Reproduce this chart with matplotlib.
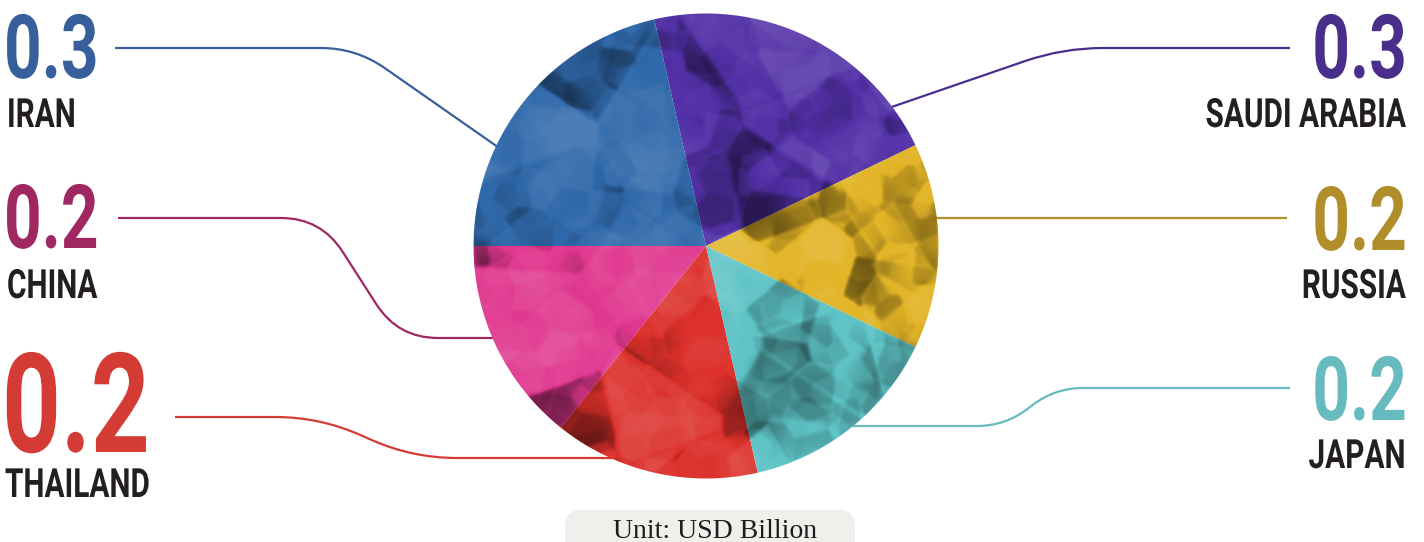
import numpy as np
import matplotlib.pyplot as plt
from matplotlib.path import Path
from matplotlib.patches import PathPatch, Circle, FancyBboxPatch
from matplotlib.patheffects import AbstractPathEffect
from matplotlib.transforms import Affine2D

# 各国数值（单位：十亿美元），按饼图逆时针顺序
countries = ['SAUDI ARABIA', 'IRAN', 'CHINA', 'THAILAND', 'JAPAN', 'RUSSIA']
values = [0.3, 0.3, 0.2, 0.2, 0.2, 0.2]
slice_colors = ['#5230a6', '#3069ab', '#e0388f', '#dc302b', '#5ec3c6', '#e2b427']
text_colors = ['#4a2e8c', '#375f9b', '#9f2862', '#d43b35', '#67babd', '#b08f2b']
unit_text = 'Unit: USD Billion'

W, H = 1424, 542


def fy(y):
    # 从上往下的像素坐标换成坐标轴坐标
    return H - y


class Squeeze(AbstractPathEffect):
    """把文字沿水平方向压窄，模拟窄体字"""

    def __init__(self, sx, x):
        super().__init__()
        self.sx, self.x = sx, x

    def draw_path(self, renderer, gc, tpath, affine, rgbFace=None):
        x0 = ax.transData.transform((self.x, 0))[0]
        t = affine + Affine2D().translate(-x0, 0).scale(self.sx, 1).translate(x0, 0)
        renderer.draw_path(gc, tpath, t, rgbFace)


def blur(a, s):
    k = np.exp(-0.5 * (np.arange(-3 * s, 3 * s + 1) / s) ** 2)
    k /= k.sum()
    a = np.apply_along_axis(lambda v: np.convolve(v, k, mode='same'), 0, a)
    return np.apply_along_axis(lambda v: np.convolve(v, k, mode='same'), 1, a)


fig = plt.figure(figsize=(W / 100, H / 100), dpi=100)
ax = fig.add_axes([0, 0, 1, 1])

cx, cy, r = 706, fy(246), 232.5
start = values[-1] / 2 / sum(values) * 360
wedges, _ = ax.pie(values, colors=slice_colors, startangle=start, counterclock=True,
                   center=(cx, cy), radius=r, wedgeprops=dict(linewidth=0, zorder=2))

# 皱纸纹理：多层 Voronoi 折面，每块折面按朝向给明暗，再加细折痕
n = 400
g = np.linspace(-1, 1, n, dtype=np.float32)
X, Y = np.meshgrid(g, g)
shade = np.zeros_like(X)
for m, amp in [(26, 1.0), (70, 0.75), (180, 0.5), (450, 0.3)]:
    i = np.arange(m)
    px = (np.modf(0.5 + i * 0.7548777 + m * 0.13)[0] * 2.2 - 1.1).astype(np.float32)
    py = (np.modf(0.5 + i * 0.5698403 + m * 0.29)[0] * 2.2 - 1.1).astype(np.float32)
    tone = (np.sin(i * 12.9898 + m) * 43758.5453 % 1 - 0.5) * 2
    grad = (np.sin(i * 78.233 + m) * 12345.6789 % 1 - 0.5) * 2
    f1 = np.full(X.shape, 9.0, np.float32)
    f2 = np.full(X.shape, 9.0, np.float32)
    idx = np.zeros(X.shape, int)
    for j in range(m):
        d = np.hypot(X - px[j], Y - py[j])
        closer = d < f1
        f2 = np.where(closer, f1, np.minimum(f2, d))
        idx = np.where(closer, j, idx)
        f1 = np.where(closer, d, f1)
    cell = 2.2 / np.sqrt(m)
    # 折面内部的渐变，方向随折面变化
    ang = grad[idx] * np.pi
    ramp = (np.cos(ang) * (X - px[idx]) + np.sin(ang) * (Y - py[idx])) / cell
    shade += amp * (tone[idx] + 0.6 * ramp)
    # 折痕：边界附近一侧亮一侧暗
    edge = np.exp(-((f2 - f1) / (0.03 * cell)) ** 2)
    shade -= amp * 0.5 * edge * np.sign(tone[idx])
shade = blur(shade, 1.2)
shade = shade - np.median(shade) + 0.25 * np.abs(shade).mean()
shade = np.clip(shade / np.percentile(np.abs(shade), 97), -1, 1)
tex = np.zeros((n, n, 4))
tex[..., :3] = (shade > 0)[..., None] * 1.0
tex[..., 3] = np.where(shade < 0, -shade * 0.5, shade * 0.14)
im = ax.imshow(tex, extent=(cx - r, cx + r, cy - r, cy + r), origin='lower',
               interpolation='bilinear', zorder=3)
im.set_clip_path(Circle((cx, cy), r, transform=ax.transData))


def rounded(points, rad):
    # 折线拐角处用二次贝塞尔圆滑
    verts = [points[0]]
    codes = [Path.MOVETO]
    for k in range(1, len(points) - 1):
        p0, p1, p2 = (np.array(p, float) for p in points[k - 1:k + 2])
        a = p1 + (p0 - p1) / np.linalg.norm(p0 - p1) * rad
        b = p1 + (p2 - p1) / np.linalg.norm(p2 - p1) * rad
        verts += [tuple(a), tuple(p1), tuple(b)]
        codes += [Path.LINETO, Path.CURVE3, Path.CURVE3]
    verts.append(points[-1])
    codes.append(Path.LINETO)
    return Path([(x, fy(y)) for x, y in verts], codes)


leaders = [
    [(1290, 48), (1063, 48), (880, 111)],
    [(115, 48), (356, 48), (505, 152)],
    [(118, 218), (321, 218), (398, 338), (500, 338)],
    [(175, 417), (320, 417), (412, 458), (620, 458)],
    [(1290, 388), (1055, 388), (1005, 426), (840, 426)],
    [(1287, 218), (930, 218)],
]
radii = [40, 35, 40, 45, 28, 0]
for pts, rad, col in zip(leaders, radii, text_colors):
    ax.add_patch(PathPatch(rounded(pts, rad), fc='none', ec=col, lw=1.6, zorder=1))

# 数值与国家名
fam = ['Roboto', 'DejaVu Sans']
sq = 0.74
# (x, 数值基线, 名称基线, 数值字号, 对齐)
spots = [
    (1407, 78, 127, 64, 'right'),
    (4, 78, 127, 64, 'left'),
    (4, 248, 298, 64, 'left'),
    (2, 452, 497, 100, 'left'),
    (1407, 420, 468, 64, 'right'),
    (1407, 250, 298, 64, 'right'),
]
for name, v, col, (x, yv, yn, fs, ha) in zip(countries, values, text_colors, spots):
    ax.text(x, fy(yv), f'{v:.1f}', color=col, fontsize=fs, fontweight='bold',
            family=fam, ha=ha, va='baseline', path_effects=[Squeeze(sq, x)])
    ax.text(x + (4 if ha == 'left' else -2), fy(yn), name, color='#231f20', fontsize=29,
            fontweight='bold', family=fam, ha=ha, va='baseline',
            path_effects=[Squeeze(sq, x)])

ax.add_patch(FancyBboxPatch((565, fy(562)), 290, 52, boxstyle='round,pad=0,rounding_size=16',
                            fc='#f0efec', ec='none', zorder=1))
ax.text(715, fy(538), unit_text, fontsize=20, family=['Liberation Serif', 'DejaVu Serif'],
        color='#1c1c1c', ha='center', va='baseline', zorder=4)

ax.set_xlim(0, W)
ax.set_ylim(0, H)
ax.set_aspect('auto')
ax.axis('off')
fig.savefig('out.png', dpi=100)
